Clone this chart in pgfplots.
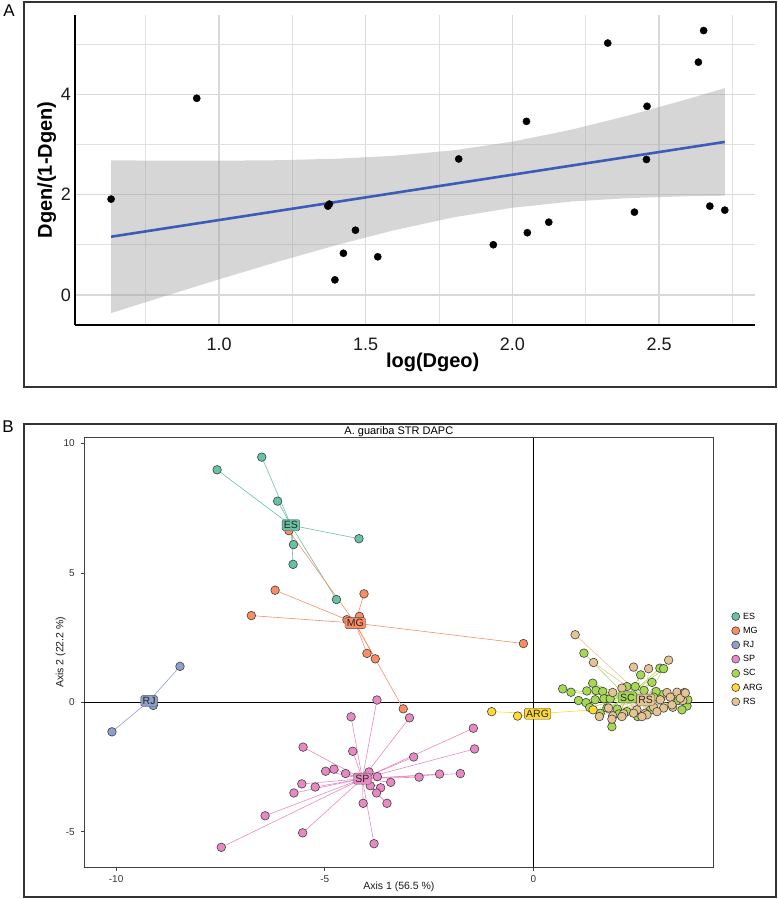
\documentclass[border=0pt]{standalone}
\usepackage{pgfplots}
\pgfplotsset{compat=1.18}
\usepackage{pgfplotstable}
\usepackage{fontspec}
\setmainfont{Liberation Sans}
\definecolor{esC}{HTML}{66C2A5}
\definecolor{mgC}{HTML}{FC8D62}
\definecolor{rjC}{HTML}{8DA0CB}
\definecolor{spC}{HTML}{E78AC3}
\definecolor{scC}{HTML}{A6D854}
\definecolor{argC}{HTML}{FFD92F}
\definecolor{rsC}{HTML}{E5C494}
\definecolor{fitC}{HTML}{3D5CB8}
\newcommand{\fs}[1]{\fontsize{#1}{#1}\selectfont}

\pgfplotstableread{
x y
0.632 1.91
0.924 3.92
1.371 1.77
1.376 1.81
1.395 0.30
1.424 0.83
1.465 1.29
1.541 0.76
1.817 2.71
1.935 1.00
2.048 3.46
2.051 1.24
2.124 1.45
2.325 5.02
2.416 1.65
2.457 2.70
2.459 3.76
2.634 4.64
2.652 5.27
2.673 1.77
2.724 1.69
}\geoT

% confidence band outline: upper edge left to right, then lower edge right to left
\pgfplotstableread{
x y
0.632 2.683
0.8 2.676
1.0 2.675
1.2 2.685
1.4 2.715
1.6 2.775
1.8 2.883
2.0 3.055
2.2 3.293
2.4 3.583
2.6 3.909
2.724 4.122
2.724 1.978
2.6 1.967
2.4 1.931
2.2 1.861
2.0 1.737
1.8 1.547
1.6 1.294
1.4 0.993
1.2 0.661
1.0 0.310
0.8 -0.052
0.632 -0.363
}\bandT

\pgfplotstableread{
x y
-7.58 8.98
-6.51 9.47
-6.13 7.77
-5.75 6.09
-5.76 5.33
-4.18 6.32
-4.72 3.97
}\esT

\pgfplotstableread{
x y
-5.86 6.63
-6.19 4.33
-6.76 3.35
-4.06 4.19
-4.47 3.19
-4.17 3.32
-3.99 1.89
-3.79 1.68
-3.12 -0.25
-0.24 2.27
}\mgT

\pgfplotstableread{
x y
-10.10 -1.14
-8.47 1.39
-9.11 -0.12
}\rjT

\pgfplotstableread{
x y
-3.75 0.09
-4.37 -0.56
-2.97 -0.60
-1.44 -1.00
-1.41 -1.80
-5.52 -1.73
-4.33 -1.89
-2.87 -2.11
-4.98 -2.66
-4.78 -2.58
-4.50 -2.75
-3.94 -2.69
-3.74 -2.87
-2.74 -2.89
-2.25 -2.77
-1.75 -2.75
-3.42 -3.09
-5.55 -3.15
-5.23 -3.27
-5.74 -3.50
-3.91 -3.22
-3.66 -3.30
-3.76 -3.50
-4.08 -3.90
-3.51 -3.90
-6.43 -4.38
-5.53 -5.04
-3.82 -5.46
-7.48 -5.60
}\spT

\pgfplotstableread{
x y
1.21 1.90
2.57 1.06
2.84 0.77
3.03 1.32
3.12 1.30
3.08 0.29
0.70 0.52
0.90 0.39
1.42 0.74
1.28 0.44
1.50 0.46
1.66 0.42
1.69 0.14
1.48 0.10
1.08 0.07
1.26 -0.01
1.84 0.14
2.24 0.61
2.44 0.61
2.65 0.46
2.94 0.42
3.47 0.07
3.68 -0.14
3.56 -0.29
1.76 -0.22
2.01 -0.26
2.24 -0.36
2.88 0.20
1.60 -0.42
1.88 -0.94
2.05 -0.45
2.50 -0.55
1.35 -0.20
3.70 0.10
2.80 -0.30
}\scT

\pgfplotstableread{
x y
1.00 2.61
1.44 1.54
3.24 1.63
2.76 1.30
2.40 1.36
1.90 0.38
2.12 0.55
3.44 0.39
3.62 0.38
3.20 0.38
3.28 0.20
3.58 0.07
3.04 0.10
3.34 -0.19
3.12 -0.22
2.88 -0.19
2.68 -0.42
2.48 -0.29
2.16 -0.44
1.90 -0.52
1.58 -0.55
2.72 -0.48
2.96 -0.36
2.60 -0.55
1.80 -0.22
1.88 -0.65
2.12 -0.55
2.40 -0.42
3.32 -0.10
3.52 0.16
3.64 0.36
}\rsT

\pgfplotstableread{
x y
-1.00 -0.36
-0.38 -0.53
1.43 -0.29
}\argT

\begin{document}
\begin{tikzpicture}
\useasboundingbox (0pt,0pt) rectangle (778pt,-899pt);
% panel frames
\draw[black!80, line width=2pt] (24pt,-2pt) rectangle (776pt,-387pt);
\draw[black!80, line width=2pt] (24pt,-424pt) rectangle (776pt,-897pt);
\node[font=\fs{17}] at (9pt,-11pt) {A};
\node[font=\fs{17}] at (8pt,-427pt) {B};

% ---------------- Panel A ----------------
\begin{axis}[
  at={(75pt,-325pt)}, anchor=south west,
  scale only axis, width=680pt, height=310pt,
  xmin=0.509, xmax=2.827, ymin=-0.6, ymax=5.58,
  axis x line*=bottom, axis y line*=left,
  axis line style={-, black, line width=1.8pt},
  xtick={1,1.5,2,2.5}, xticklabels={1.0,1.5,2.0,2.5},
  minor xtick={0.75,1.25,1.75,2.25,2.75},
  ytick={0,2,4}, yticklabels={0,2,4},
  minor ytick={1,3,5},
  grid=both,
  major grid style={draw=black!15, line width=1.3pt},
  minor grid style={draw=black!12, line width=1.1pt},
  major tick length=0pt, minor tick length=0pt,
  tick label style={font=\fs{18}, text=black!90},
  xticklabel style={anchor=north, inner sep=0pt, yshift=-13pt},
  yticklabel style={anchor=east, inner sep=0pt, xshift=-4pt},
  xlabel={\textbf{log(Dgeo)}},
  ylabel={\textbf{Dgen/(1-Dgen)}},
  label style={font=\fs{20}},
  xlabel style={at={(axis description cs:0.526,-0.119)}, anchor=center},
  ylabel style={at={(axis description cs:-0.0416,0.5)}, anchor=center},
]
\addplot[only marks, mark=*, mark size=3.6pt, mark options={fill=black, draw=black}] table[x=x,y=y] {\geoT};
\addplot[fill=black!40, fill opacity=0.4, draw=none] table[x=x,y=y] {\bandT};
\addplot[fitC, line width=2.6pt] coordinates {(0.632,1.16) (2.724,3.05)};
\end{axis}

% ---------------- Panel B ----------------
\begin{axis}[
  at={(84pt,-867pt)}, anchor=south west,
  scale only axis, width=629.7pt, height=429.3pt,
  xmin=-10.77, xmax=4.32, ymin=-6.36, ymax=10.22,
  axis line style={draw=black!75, line width=0.9pt},
  xtick={-10,-5,0}, xticklabels={-10,-5,0},
  ytick={-5,0,5,10}, yticklabels={-5,0,5,10},
  xtick pos=lower, ytick pos=left,
  tick align=outside, major tick length=3.5pt,
  tick style={draw=black!75, line width=0.7pt},
  tick label style={font=\fs{10}, text=black!80},
  xticklabel style={anchor=north, inner sep=0pt, yshift=-5pt},
  yticklabel style={anchor=east, inner sep=0pt, xshift=-5.5pt},
  xlabel={Axis 1 (56.5 \%)}, ylabel={Axis 2 (22.2 \%)},
  label style={font=\fs{10.5}, text=black!90},
  xlabel style={at={(axis description cs:0.5,-0.0466)}, anchor=center},
  ylabel style={at={(axis description cs:-0.037,0.5)}, anchor=center},
  title={A. guariba STR DAPC},
  every axis title shift=0pt,
  title style={font=\fs{11}, at={(axis description cs:0.5,1)}, anchor=center, yshift=6.5pt},
  legend style={at={(axis description cs:1.0283,0.5944)}, anchor=north west,
    draw=none, fill=none, font=\fs{9}, row sep=5.2pt, column sep=3.5pt,
    inner xsep=0pt, inner ysep=0pt,
    nodes={inner sep=0pt, text height=7pt, text depth=2pt}},
  legend cell align=left,
  legend image code/.code={\draw[#1, mark size=4pt] plot coordinates {(0pt,0pt)};},
]
\addplot[black, line width=0.8pt, forget plot] coordinates {(-10.77,0) (4.32,0)};
\addplot[black, line width=0.8pt, forget plot] coordinates {(0,-6.36) (0,10.22)};
% spokes
\addplot[esC, line width=0.6pt, forget plot, quiver={u={-5.81-(\thisrow{x})}, v={6.84-(\thisrow{y})}}] table[x=x,y=y] {\esT};
\addplot[mgC, line width=0.6pt, forget plot, quiver={u={-4.27-(\thisrow{x})}, v={3.06-(\thisrow{y})}}] table[x=x,y=y] {\mgT};
\addplot[rjC, line width=0.6pt, forget plot, quiver={u={-9.21-(\thisrow{x})}, v={0.05-(\thisrow{y})}}] table[x=x,y=y] {\rjT};
\addplot[spC, line width=0.6pt, forget plot, quiver={u={-4.10-(\thisrow{x})}, v={-2.95-(\thisrow{y})}}] table[x=x,y=y] {\spT};
\addplot[scC, line width=0.6pt, forget plot, quiver={u={2.25-(\thisrow{x})}, v={0.19-(\thisrow{y})}}] table[x=x,y=y] {\scT};
\addplot[argC, line width=0.6pt, forget plot, quiver={u={0.10-(\thisrow{x})}, v={-0.44-(\thisrow{y})}}] table[x=x,y=y] {\argT};
\addplot[rsC, line width=0.6pt, forget plot, quiver={u={2.69-(\thisrow{x})}, v={0.10-(\thisrow{y})}}] table[x=x,y=y] {\rsT};
% points
\addplot[only marks, mark=*, mark size=4.3pt, mark options={fill=esC, draw=black!75, line width=0.6pt}] table[x=x,y=y] {\esT};
\addlegendentry{ES}
\addplot[only marks, mark=*, mark size=4.3pt, mark options={fill=mgC, draw=black!75, line width=0.6pt}] table[x=x,y=y] {\mgT};
\addlegendentry{MG}
\addplot[only marks, mark=*, mark size=4.3pt, mark options={fill=rjC, draw=black!75, line width=0.6pt}] table[x=x,y=y] {\rjT};
\addlegendentry{RJ}
\addplot[only marks, mark=*, mark size=4.3pt, mark options={fill=spC, draw=black!75, line width=0.6pt}] table[x=x,y=y] {\spT};
\addlegendentry{SP}
\addplot[only marks, mark=*, mark size=4.3pt, mark options={fill=scC, draw=black!75, line width=0.6pt}] table[x=x,y=y] {\scT};
\addlegendentry{SC}
\addplot[only marks, mark=*, mark size=4.3pt, mark options={fill=argC, draw=black!75, line width=0.6pt}] table[x=x,y=y] {\argT};
\addlegendentry{ARG}
\addplot[only marks, mark=*, mark size=4.3pt, mark options={fill=rsC, draw=black!75, line width=0.6pt}] table[x=x,y=y] {\rsT};
\addlegendentry{RS}
% centroid labels
\pgfplotsset{grplab/.style={only marks, mark=none, forget plot, nodes near coords={#1}, nodes near coords align=center}}
\addplot[grplab=ES, every node near coord/.style={anchor=center, fill=esC, draw=black!70, rounded corners=1.5pt, inner sep=1.8pt, font=\fs{10.5}, text=black!85}] coordinates {(-5.81,6.84)};
\addplot[grplab=MG, every node near coord/.style={anchor=center, fill=mgC, draw=black!70, rounded corners=1.5pt, inner sep=1.8pt, font=\fs{10.5}, text=black!85}] coordinates {(-4.27,3.06)};
\addplot[grplab=RJ, every node near coord/.style={anchor=center, fill=rjC, draw=black!70, rounded corners=1.5pt, inner sep=1.8pt, font=\fs{10.5}, text=black!85}] coordinates {(-9.21,0.05)};
\addplot[grplab=SP, every node near coord/.style={anchor=center, fill=spC, draw=black!70, rounded corners=1.5pt, inner sep=1.8pt, font=\fs{10.5}, text=black!85}] coordinates {(-4.10,-2.95)};
\addplot[grplab=SC, every node near coord/.style={anchor=center, fill=scC, draw=black!70, rounded corners=1.5pt, inner sep=1.8pt, font=\fs{10.5}, text=black!85}] coordinates {(2.25,0.19)};
\addplot[grplab=ARG, every node near coord/.style={anchor=center, fill=argC, draw=black!70, rounded corners=1.5pt, inner sep=1.8pt, font=\fs{10.5}, text=black!85}] coordinates {(0.10,-0.44)};
\addplot[grplab=RS, every node near coord/.style={anchor=center, fill=rsC, draw=black!70, rounded corners=1.5pt, inner sep=1.8pt, font=\fs{10.5}, text=black!85}] coordinates {(2.69,0.10)};
\node[font=\fs{10}, text=black!85] at (axis description cs:1.0288,0.6308) {Site};
\end{axis}
\end{tikzpicture}
\end{document}
